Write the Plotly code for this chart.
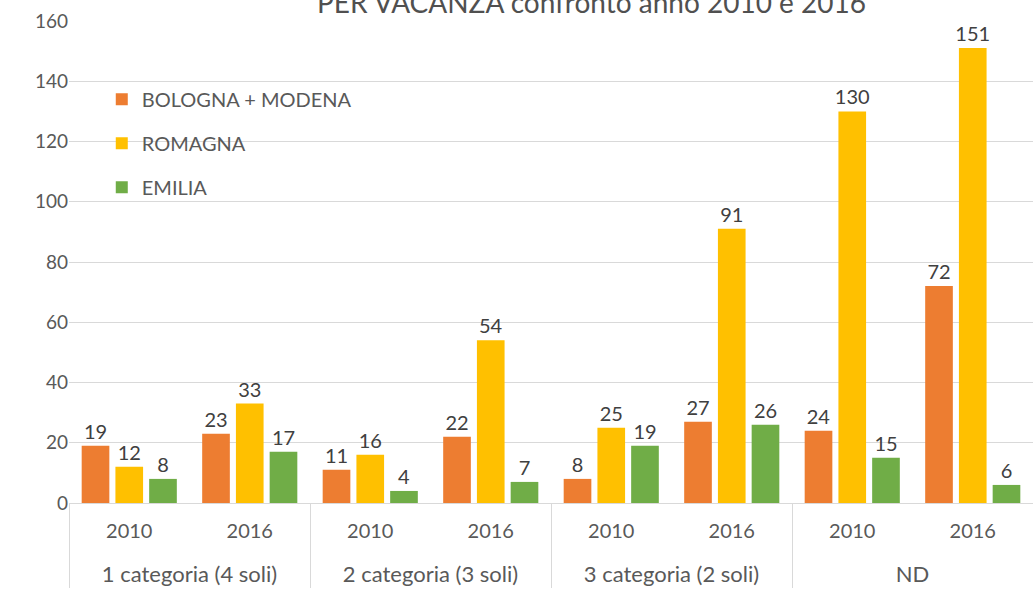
import plotly.graph_objects as go

groups = ["1 categoria (4 soli)", "1 categoria (4 soli)",
          "2 categoria (3 soli)", "2 categoria (3 soli)",
          "3 categoria (2 soli)", "3 categoria (2 soli)",
          "ND", "ND"]
years = ["2010", "2016"] * 4

bologna_modena = [19, 23, 11, 22, 8, 27, 24, 72]
romagna = [12, 33, 16, 54, 25, 91, 130, 151]
emilia = [8, 17, 4, 7, 19, 26, 15, 6]

series = [
    ("BOLOGNA + MODENA", bologna_modena, "#ED7D31"),
    ("ROMAGNA", romagna, "#FFC000"),
    ("EMILIA", emilia, "#70AD47"),
]

FONT = "Lato"
GRAY = "#595959"

# styled labels for the two category levels
group_lbl = [f"<span style='font-size:22px'>{g}</span>" for g in groups]
year_lbl = [f"<span style='font-size:20px'>{y}</span><br> " for y in years]

fig = go.Figure()
for i, (name, vals, col) in enumerate(series):
    fig.add_trace(go.Bar(
        x=[group_lbl, year_lbl], y=vals, name=name,
        marker=dict(color=col, line=dict(width=0)),
        text=vals, texttemplate="%{y}", textposition="outside",
        constraintext="none",
        textfont=dict(family=FONT, size=20, color="#404040"),
        cliponaxis=False, legendgroup=f"g{i}",
    ))

fig.update_layout(
    width=1033, height=589,
    margin=dict(l=69, r=0, t=21, b=86, autoexpand=False),
    paper_bgcolor="white", plot_bgcolor="white",
    barmode="group", bargap=0.16, bargroupgap=0.18,
    font=dict(family=FONT, size=20, color=GRAY),
    showlegend=True,
    legend=dict(x=0.034, y=0.878, xanchor="left", yanchor="top",
                bgcolor="rgba(0,0,0,0)", tracegroupgap=15,
                font=dict(family=FONT, size=20, color=GRAY)),
    annotations=[dict(
        text="PER VACANZA confronto anno 2010 e 2016",
        xref="paper", yref="paper", x=0.5415, y=1.0394,
        xanchor="center", yanchor="middle", showarrow=False,
        font=dict(family=FONT, size=28, color="#505050"),
    )],
)
fig.update_yaxes(range=[0, 160], dtick=20, showgrid=True, gridcolor="#D9D9D9",
                 gridwidth=1, zeroline=False, showline=False, ticks="",
                 automargin=False,
                 tickfont=dict(family=FONT, size=19, color=GRAY))
fig.update_xaxes(type="multicategory", showline=True, linecolor="#D9D9D9",
                 linewidth=1, showdividers=True, dividercolor="#D9D9D9",
                 dividerwidth=1, ticks="", automargin=False,
                 ticklabelstandoff=9,
                 tickfont=dict(family=FONT, size=21, color=GRAY))

fig.write_html("out.html", config={"displayModeBar": False},
               post_script="document.body.style.margin='0';")
